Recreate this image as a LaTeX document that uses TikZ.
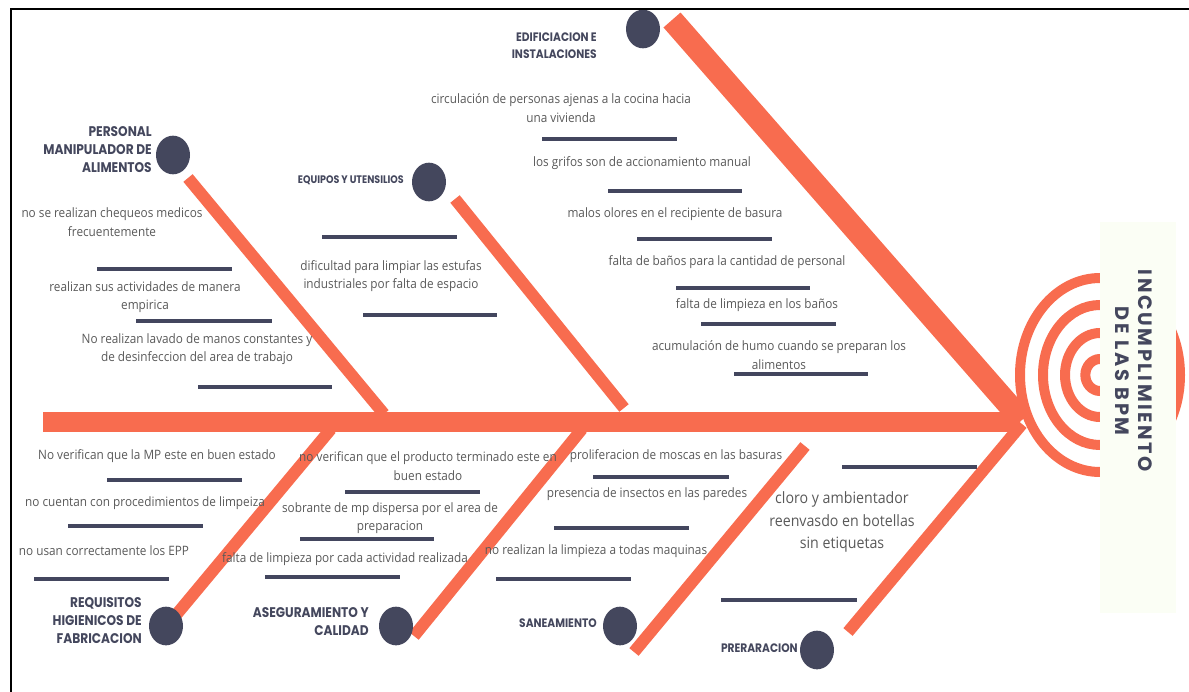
\documentclass[tikz,border=0pt]{standalone}
\usepackage{fontspec}
\setmainfont{Open Sans}
\newfontfamily\bodyfont[FakeStretch=0.91]{Open Sans}
\newfontfamily\labfont[FakeStretch=0.87]{Poppins}
\newfontfamily\titlefont[LetterSpace=13.5]{Poppins}
\usetikzlibrary{shapes.geometric}

\definecolor{bonec}{HTML}{F86C4F}
\definecolor{navy}{HTML}{44475D}
\definecolor{barc}{HTML}{43465E}
\definecolor{txtc}{HTML}{595959}
\definecolor{boxc}{HTML}{FBFEF5}

\tikzset{
  bone/.style={draw=bonec, line width=9pt},
  spine/.style={draw=bonec, line width=15pt},
  bigbone/.style={draw=bonec, line width=17pt},
  bar/.style={draw=barc, line width=2.6pt},
  ring/.style={draw=bonec, line width=7.5pt},
  headdot/.style={ellipse, fill=navy, minimum width=25.5pt, minimum height=29pt, inner sep=0pt},
  cause/.style={text=txtc, align=center, inner sep=0pt,
    font=\bodyfont\fontsize{9.7}{13.8}\selectfont},
  bigcause/.style={text=txtc, align=center, inner sep=0pt,
    font=\bodyfont\fontsize{11.7}{16.9}\selectfont},
  catlabel/.style={text=navy, align=right, inner sep=0pt, anchor=east,
    font=\labfont\bfseries\fontsize{9.2}{13.5}\selectfont},
  biglabel/.style={catlabel, font=\labfont\bfseries\fontsize{10.5}{13.5}\selectfont},
}

\begin{document}
\begin{tikzpicture}[x=0.75pt, y=-0.75pt]
\useasboundingbox (0,0) rectangle (1189,692);

% head rings, partly hidden by the title panel
\foreach \rx/\ry in {60/72.75, 42.75/52.5, 26.25/31.5, 11/12}
  \draw[ring] (1100,375) ellipse [x radius=\rx pt, y radius=\ry pt];
\fill[boxc] (1100,222) rectangle (1176,613);
\node[text=navy, rotate=-90, align=center, inner sep=0pt,
      font=\titlefont\bfseries\fontsize{14.5}{17.25}\selectfont] (effect) at (1134,371)
  {INCUMPLIMIENTO\\DE LAS BPM};

% bone end points
\coordinate (sL) at (43,422);
\coordinate (sR) at (1020,422);
\coordinate (p1) at (188,178);   \coordinate (p2) at (384,414);
\coordinate (e1) at (455,199);   \coordinate (e2) at (624,408);
\coordinate (d1) at (672,20);    \coordinate (d2) at (1022,420);
\coordinate (r1) at (176,615);   \coordinate (r2) at (331,429);
\coordinate (a1) at (414,636);   \coordinate (a2) at (582,429);
\coordinate (s1) at (634,652);   \coordinate (s2) at (805,446);
\coordinate (q1) at (848,632);   \coordinate (q2) at (1022,424);

% fish bones
\draw[spine] (sL) -- (sR);
\draw[bone] (p1) -- (p2);
\draw[bone] (e1) -- (e2);
\draw[bigbone] (d1) -- (d2);
\draw[bone] (r1) -- (r2);
\draw[bone] (a1) -- (a2);
\draw[bone] (s1) -- (s2);
\draw[bone] (q1) -- (q2);

% category dots
\node[headdot] (cP) at (173,155) {};
\node[headdot] (cE) at (429,182) {};
\node[headdot] (cD) at (643,29) {};
\node[headdot] (cR) at (166,626) {};
\node[headdot] (cA) at (396,626) {};
\node[headdot] (cS) at (620,626) {};
\node[headdot] (cQ) at (817,650) {};

% category labels
\node[biglabel] (lP) at (152,150) {PERSONAL\\MANIPULADOR DE\\ALIMENTOS};
\node[catlabel, font=\labfont\bfseries\fontsize{8.2}{10}\selectfont] (lE) at (404,180) {EQUIPOS Y UTENSILIOS};
\node[catlabel, font=\labfont\bfseries\fontsize{9.2}{12.75}\selectfont] (lD) at (597,45.5) {EDIFICIACION E\\INSTALACIONES};
\node[biglabel] (lR) at (142,621) {REQUISITOS\\HIGIENICOS DE\\FABRICACION};
\node[biglabel] (lA) at (369,622) {ASEGURAMIENTO Y\\CALIDAD};
\node[catlabel] (lS) at (597,623) {SANEAMIENTO};
\node[catlabel] (lQ) at (798,648) {PRERARACION};

% causes: personal
\node[cause] (t1) at (112,222) {no se realizan chequeos medicos\\frecuentemente};
\node[cause] (t2) at (145,297) {realizan sus actividades de manera\\empirica};
\node[cause] (t3) at (197,349) {No realizan lavado de manos constantes y\\de desinfeccion del area de trabajo};
\draw[bar] (97,269) -- (232,269);
\draw[bar] (136,321) -- (272,321);
\draw[bar] (198,387) -- (332,387);

% causes: equipment
\draw[bar] (322,237) -- (457,237);
\node[cause] (t4) at (391,276) {dificultad para limpiar las estufas\\industriales por falta de espacio};
\draw[bar] (363,315) -- (497,315);

% causes: building
\node[cause] (t5) at (561,108) {circulación de personas ajenas a la cocina hacia\\una vivienda};
\node[cause] (t6) at (642,163) {los grifos son de accionamiento manual};
\node[cause] (t7) at (675,214) {malos olores en el recipiente de basura};
\node[cause] (t8) at (727,262) {falta de baños para la cantidad de personal};
\node[cause] (t9) at (757,305) {falta de limpieza en los baños};
\node[cause] (t10) at (779,355) {acumulación de humo cuando se preparan los\\alimentos};
\draw[bar] (542,139) -- (677,139);
\draw[bar] (608,191) -- (742,191);
\draw[bar] (637,239) -- (772,239);
\draw[bar] (676,288) -- (810,288);
\draw[bar] (701,324) -- (836,324);
\draw[bar] (734,374) -- (868,374);

% causes: hygiene requirements
\node[cause] (b1) at (157,456) {No verifican que la MP este en buen estado};
\node[cause] (b2) at (145,503) {no cuentan con procedimientos de limpeiza};
\node[cause] (b3) at (104,551) {no usan correctamente los EPP};
\draw[bar] (107,480) -- (242,480);
\draw[bar] (68,526) -- (203,526);
\draw[bar] (34,579) -- (169,579);

% causes: quality assurance
\node[cause] (b4) at (428,466) {no verifican que el producto terminado este en\\buen estado};
\node[cause] (b5) at (390,518) {sobrante de mp dispersa por el area de\\preparacion};
\node[cause] (b6) at (345,559) {falta de limpieza por cada actividad realizada};
\draw[bar] (345,492) -- (480,492);
\draw[bar] (300,539) -- (434,539);
\draw[bar] (265,577) -- (400,577);

% causes: sanitation
\node[cause] (b7) at (676,456) {proliferacion de moscas en las basuras};
\node[cause] (b8) at (647,494) {presencia de insectos en las paredes};
\node[cause] (b9) at (596,551) {no realizan la limpieza a todas maquinas};
\draw[bar] (593,477) -- (729,477);
\draw[bar] (554,528) -- (689,528);
\draw[bar] (496,579) -- (631,579);

% causes: preparation
\draw[bar] (842,467) -- (977,467);
\node[bigcause] (b10) at (842,522) {cloro y ambientador\\reenvasdo en botellas\\sin etiquetas};
\draw[bar] (721,600) -- (857,600);

% frame
\draw[line width=1.5pt, line cap=rect] (11,692) |- (1189,9);
\end{tikzpicture}
\end{document}
